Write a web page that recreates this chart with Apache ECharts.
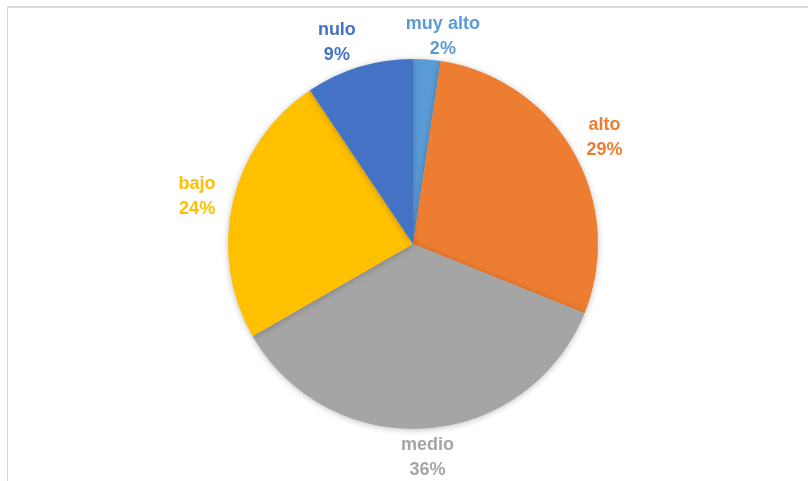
<!DOCTYPE html>
<html>
<head>
<meta charset="utf-8">
<script src="https://cdn.jsdelivr.net/npm/echarts@6/dist/echarts.min.js"></script>
<style>
  html, body { margin: 0; padding: 0; background: #fff; }
  #wrap { position: relative; width: 808px; height: 481px; }
  #chart { position: absolute; left: 0; top: 0; width: 808px; height: 481px; }
  #frame { position: absolute; left: 7px; top: 6px; right: 0; bottom: 0;
           border-left: 1px solid #d9d9d9; border-top: 2px solid #d9d9d9; pointer-events: none; }
</style>
</head>
<body>
<div id="wrap"><div id="chart"></div><div id="frame"></div></div>
<script>
const categories = ['muy alto', 'alto', 'medio', 'bajo', 'nulo'];
const values = [2.4, 28.7, 35.6, 23.9, 9.4];
const colors = ['#5B9BD5', '#ED7D31', '#A5A5A5', '#FFC000', '#4472C4'];

const CX = 413, CY = 244, R = 185;
const FONT = 'bold 18px "Liberation Sans"';
const MIN_GAP = 50;

const total = values.reduce((a, b) => a + b, 0);
const midAngles = [];
let acc = 0;
values.forEach(v => {
  midAngles.push((acc + v / 2) / total * 2 * Math.PI);
  acc += v;
});

// label text widths
const ctx = document.createElement('canvas').getContext('2d');
ctx.font = FONT;
const labelTexts = values.map((v, i) => [categories[i], Math.round(v / total * 100) + '%']);
const labelW = labelTexts.map(lines => Math.max(...lines.map(t => ctx.measureText(t).width)));

// base positions (outside end along mid-angle)
const pos = midAngles.map(a => {
  const ux = Math.sin(a), uy = -Math.cos(a);
  const d = R + 25 + 12 * Math.abs(ux);
  return { x: CX + ux * d, y: CY + uy * d + 3, top: uy < -0.8 };
});
// spread neighbouring labels above the pie apart
const topIdx = pos.map((p, i) => i).filter(i => pos[i].top).sort((a, b) => pos[a].x - pos[b].x);
for (let k = 1; k < topIdx.length; k++) {
  const a = topIdx[k - 1], b = topIdx[k];
  const gap = (pos[b].x - labelW[b] / 2) - (pos[a].x + labelW[a] / 2);
  if (gap < MIN_GAP) {
    const s = (MIN_GAP - gap) / 2;
    pos[a].x -= s; pos[b].x += s;
  }
}

const chart = echarts.init(document.getElementById('chart'), null, { renderer: 'canvas' });
chart.setOption({
  backgroundColor: '#ffffff',
  animation: false,
  series: [{
    type: 'pie',
    center: [CX, CY],
    radius: R,
    startAngle: 90,
    clockwise: true,
    data: categories.map((c, i) => ({
      name: c, value: values[i],
      itemStyle: { color: colors[i] },
      label: { color: colors[i] }
    })),
    itemStyle: {
      borderWidth: 0,
      shadowBlur: 6,
      shadowColor: 'rgba(0,0,0,0.25)',
      shadowOffsetY: 1
    },
    label: {
      show: true,
      position: 'outside',
      fontFamily: 'Liberation Sans',
      fontWeight: 'bold',
      fontSize: 18,
      lineHeight: 25,
      align: 'center',
      formatter: p => p.name + '\n' + Math.round(p.percent) + '%'
    },
    labelLine: { show: false },
    labelLayout: function (p) {
      const q = pos[p.dataIndex];
      return {
        x: q.x,
        y: q.y,
        align: 'center',
        verticalAlign: 'middle',
        moveOverlap: null
      };
    }
  }]
});
</script>
</body>
</html>
